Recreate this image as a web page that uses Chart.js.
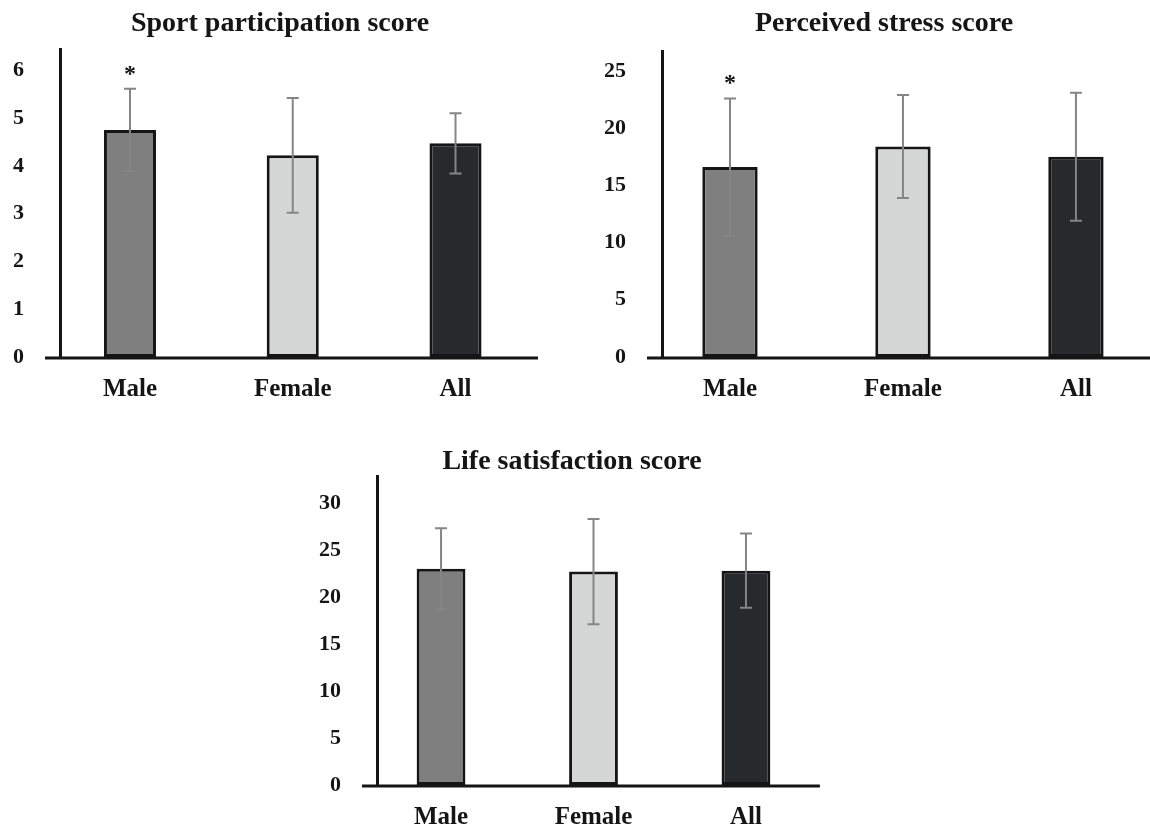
<!DOCTYPE html>
<html>
<head>
<meta charset="utf-8">
<script src="https://cdn.jsdelivr.net/npm/chart.js@4"></script>
<style>
  html, body { margin: 0; padding: 0; background: #fff; overflow: hidden; }
  .box { position: absolute; }
</style>
</head>
<body>
<div class="box" style="left:0;top:0;width:560px;height:410px"><canvas id="sport"></canvas></div>
<div class="box" style="left:590px;top:0;width:588px;height:410px"><canvas id="stress"></canvas></div>
<div class="box" style="left:300px;top:420px;width:544px;height:415px"><canvas id="life"></canvas></div>
<script>
const groups = ['Male', 'Female', 'All'];

const sportMean = [4.75, 4.22, 4.47];
const sportSd = [0.86, 1.2, 0.63];
const sportSig = ['*', '', ''];

const stressMean = [16.6, 18.4, 17.5];
const stressSd = [6.0, 4.5, 5.6];
const stressSig = ['*', '', ''];

const lifeMean = [23.0, 22.7, 22.8];
const lifeSd = [4.3, 5.6, 3.95];
const lifeSig = ['', '', ''];

const barColors = ['#7f7f7f', '#d5d7d6', '#272a2d'];
const serif = "'Liberation Serif', 'Times New Roman', serif";
const ink = '#151515';

// baseline (it sticks out a bit left of the y axis), error bars, significance marks
const errorBars = {
  id: 'errorBars',
  beforeDatasetsDraw(chart, args, opts) {
    const { ctx, chartArea, scales: { x } } = chart;
    ctx.save();
    ctx.strokeStyle = ink;
    ctx.lineWidth = 3;
    ctx.beginPath();
    ctx.moveTo(chartArea.left - 15, chartArea.bottom + 1);
    ctx.lineTo(x.getPixelForValue(opts.axisEnd), chartArea.bottom + 1);
    ctx.stroke();
    ctx.restore();
  },
  afterDatasetsDraw(chart, args, opts) {
    const { ctx, scales: { y } } = chart;
    const meta = chart.getDatasetMeta(0);
    const data = chart.data.datasets[0].data;
    ctx.save();
    meta.data.forEach((bar, i) => {
      const m = data[i].y;
      const top = y.getPixelForValue(m + opts.sd[i]);
      const bottom = y.getPixelForValue(m - opts.sd[i]);
      ctx.strokeStyle = '#858585';
      ctx.lineWidth = 2;
      ctx.beginPath();
      ctx.moveTo(bar.x, top); ctx.lineTo(bar.x, bottom);
      ctx.moveTo(bar.x - 6, top); ctx.lineTo(bar.x + 6, top);
      ctx.moveTo(bar.x - 6, bottom); ctx.lineTo(bar.x + 6, bottom);
      ctx.stroke();
      if (opts.sig[i]) {
        ctx.fillStyle = ink;
        ctx.font = 'bold 24px ' + serif;
        ctx.textAlign = 'center';
        ctx.textBaseline = 'alphabetic';
        ctx.fillText(opts.sig[i], bar.x, top - 8);
      }
    });
    ctx.restore();
  }
};

function makeChart(id, title, mean, sd, sig, cfg) {
  return new Chart(document.getElementById(id), {
    type: 'bar',
    data: {
      datasets: [{
        data: mean.map((v, i) => ({ x: i, y: v })),
        backgroundColor: barColors,
        borderColor: ink,
        borderWidth: 3,
        borderSkipped: false,
        categoryPercentage: 1,
        barPercentage: 0.32
      }]
    },
    options: {
      responsive: true,
      maintainAspectRatio: false,
      animation: false,
      plugins: {
        legend: { display: false },
        tooltip: { enabled: false },
        title: {
          display: true,
          text: title,
          color: ink,
          font: { family: serif, size: 28, weight: 'bold', lineHeight: 1 },
          padding: cfg.titlePad
        },
        errorBars: { sd: sd, sig: sig, axisEnd: cfg.axisEnd }
      },
      scales: {
        x: {
          type: 'linear',
          min: cfg.xMin,
          max: cfg.xMax,
          offset: false,
          grid: { display: false, drawTicks: false },
          border: { display: false },
          afterBuildTicks: s => { s.ticks = groups.map((g, i) => ({ value: i })); },
          afterFit: s => { s.height = cfg.xHeight; },
          ticks: {
            autoSkip: false,
            maxRotation: 0,
            padding: 18,
            color: ink,
            font: { family: serif, size: 25, weight: 'bold', lineHeight: 1.2 },
            callback: v => groups[v]
          }
        },
        y: {
          min: 0,
          max: cfg.yMax,
          grid: { display: false, drawTicks: false },
          border: { color: ink, width: 3 },
          afterFit: s => { s.width = cfg.yWidth; },
          ticks: {
            stepSize: cfg.step,
            includeBounds: false,
            padding: 36,
            color: ink,
            font: { family: serif, size: 22, weight: 'bold' }
          }
        }
      }
    },
    plugins: [errorBars]
  });
}

makeChart('sport', 'Sport participation score', sportMean, sportSd, sportSig, {
  xMin: -0.43, xMax: 2.642, axisEnd: 2.507, yMax: 6.44, step: 1,
  yWidth: 60, xHeight: 53, titlePad: { top: 10, bottom: 11 }
});

makeChart('stress', 'Perceived stress score', stressMean, stressSd, stressSig, {
  xMin: -0.393, xMax: 2.59, axisEnd: 2.59, yMax: 26.75, step: 5,
  yWidth: 72, xHeight: 53, titlePad: { top: 10, bottom: 13 }
});

makeChart('life', 'Life satisfaction score', lifeMean, lifeSd, lifeSig, {
  xMin: -0.42, xMax: 2.643, axisEnd: 2.485, yMax: 32.87, step: 5,
  yWidth: 77, xHeight: 50, titlePad: { top: 28, bottom: 0 }
});
</script>
</body>
</html>
